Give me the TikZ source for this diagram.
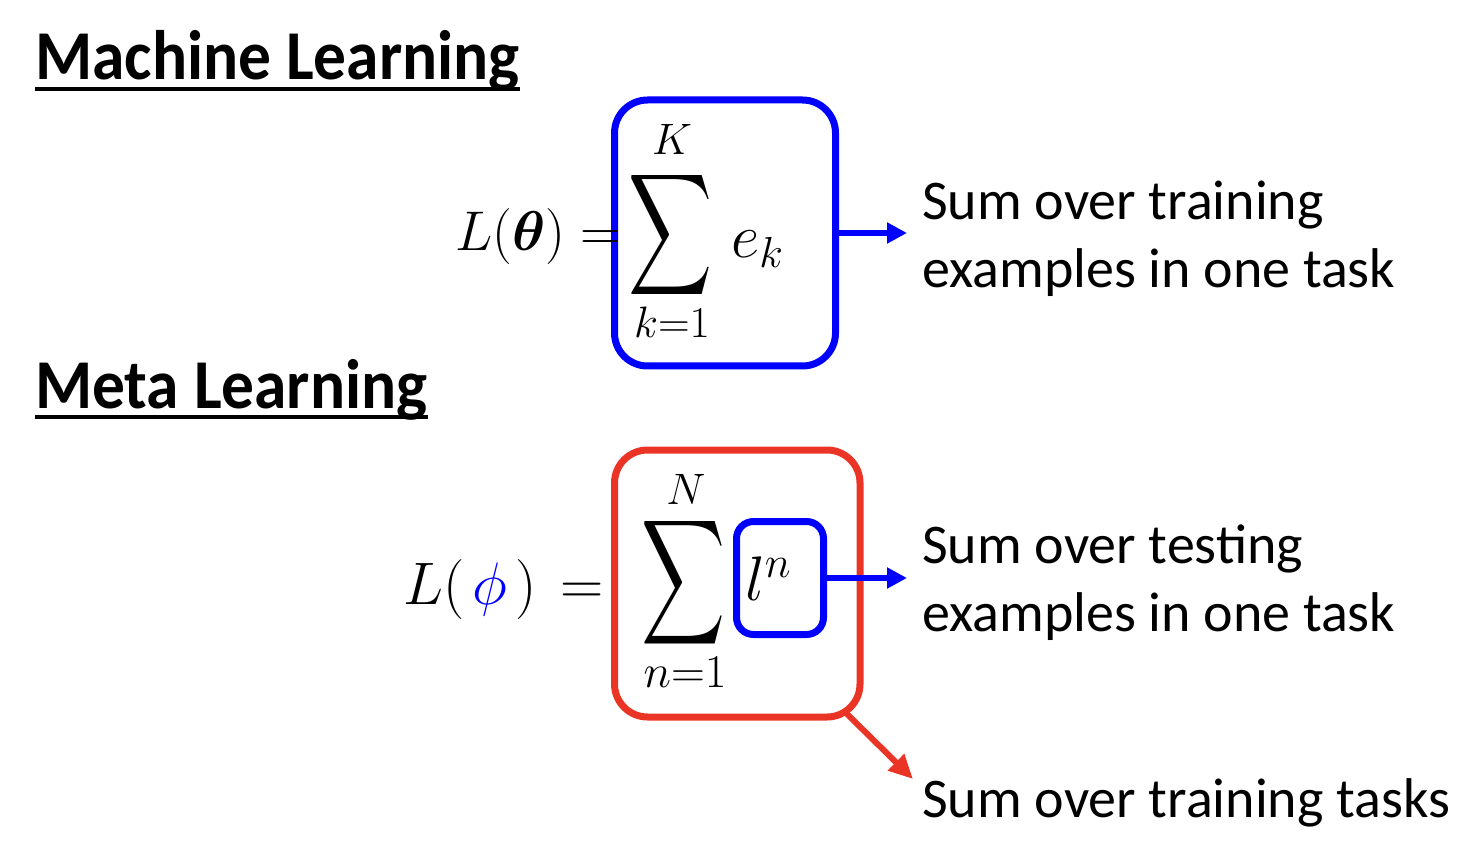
\documentclass[tikz,border=0pt]{standalone}
\usepackage{fix-cm}
\usepackage{bm}
\usepackage{fontspec}
\newfontfamily\calibri{Carlito}
\usetikzlibrary{arrows.meta}
\definecolor{myblue}{RGB}{0,0,255}
\definecolor{myred}{RGB}{234,53,38}
\tikzset{
  titletext/.style={anchor=base west, inner sep=0pt, font=\calibri\bfseries\fontsize{70}{80}\selectfont},
  bodytext/.style={anchor=base west, inner sep=0pt, font=\calibri\fontsize{56}{64}\selectfont},
  underl/.style={line width=4pt},
  bluebox/.style={draw=myblue, line width=7pt, rounded corners=33pt, inner sep=0pt},
  smallbluebox/.style={draw=myblue, line width=7pt, rounded corners=17pt, inner sep=0pt},
  redbox/.style={draw=myred, line width=7pt, rounded corners=33pt, inner sep=0pt},
  bluearrow/.style={draw=myblue, line width=6pt, -{Triangle[length=20pt,width=20pt]}},
  redarrow/.style={draw=myred, line width=6pt, -{Triangle[length=24pt,width=22pt]}},
  mathbig/.style={inner sep=0pt, font=\fontsize{56}{60}\selectfont},
  mathbigger/.style={inner sep=0pt, font=\fontsize{60}{64}\selectfont},
  limit/.style={inner sep=0pt, anchor=base, font=\fontsize{44}{48}\selectfont},
  sumsign/.style={inner sep=0pt, anchor=north west},
}
\begin{document}
\begin{tikzpicture}[x=1pt,y=-1pt]
\useasboundingbox (0,0) rectangle (1464,858);

% titles
\node[titletext] (ml) at (35,80) {\scalebox{0.935}[1]{Machine Learning}};
\draw[underl] ([yshift=-8.7pt]ml.base west) -- ([yshift=-8.7pt]ml.base east);
\node[titletext] (meta) at (35,408) {\scalebox{0.935}[1]{Meta Learning}};
\draw[underl] ([yshift=-8.7pt]meta.base west) -- ([yshift=-8.7pt]meta.base east);

% machine learning formula
\node[bluebox, minimum width=221pt, minimum height=266pt] (box1) at (725,233) {};
\node[mathbig, anchor=base west] (lhs1) at (455,251) {$L(\bm{\theta}) =$};
\node[sumsign] (sum1) at (628,167) {\resizebox*{84pt}{136pt}{$\displaystyle\sum$}};
\node[limit] (K) at (672,155) {$K$};
\node[limit] (k1) at (672,338) {$k{=}1$};
\node[mathbig, anchor=base west, font=\fontsize{62}{66}\selectfont] (ek) at (731,258) {$e_k$};

\coordinate (a1) at (907,233);
\draw[bluearrow] (box1.east) -- (a1);
\node[bodytext] (s1a) at (922,220) {Sum over training};
\node[bodytext] (s1b) at (922,288) {examples in one task};

% meta learning formula
\node[redbox, minimum width=245.5pt, minimum height=267pt] (box2) at (737.25,583.5) {};
\node[smallbluebox, minimum width=87pt, minimum height=113pt] (box3) at (780,578) {};
\node[mathbigger, anchor=base west] (lhs2) at (403,604) {$L(\mkern2.5mu\textcolor{myblue}{\phi}\mkern2.5mu)\mkern2mu =$};
\node[sumsign] (sum2) at (641,513) {\resizebox*{84pt}{140pt}{$\displaystyle\sum$}};
\node[limit] (N) at (686,504) {$N$};
\node[limit, font=\fontsize{47}{50}\selectfont] (n1) at (685,687) {$n{=}1$};
\node[mathbigger, anchor=base west, font=\fontsize{63}{66}\selectfont] (ln) at (745,600) {$l^n$};

\coordinate (a2) at (907,578);
\draw[bluearrow] (box3.east) -- (a2);
\node[bodytext] (s2a) at (922,563) {Sum over testing};
\node[bodytext] (s2b) at (922,631) {examples in one task};

\coordinate (a3) at (913,779);
\draw[redarrow] ([xshift=-17pt,yshift=7pt]box2.south east) -- (a3);
\node[bodytext] (s3) at (922,817) {Sum over training tasks};
\end{tikzpicture}
\end{document}
